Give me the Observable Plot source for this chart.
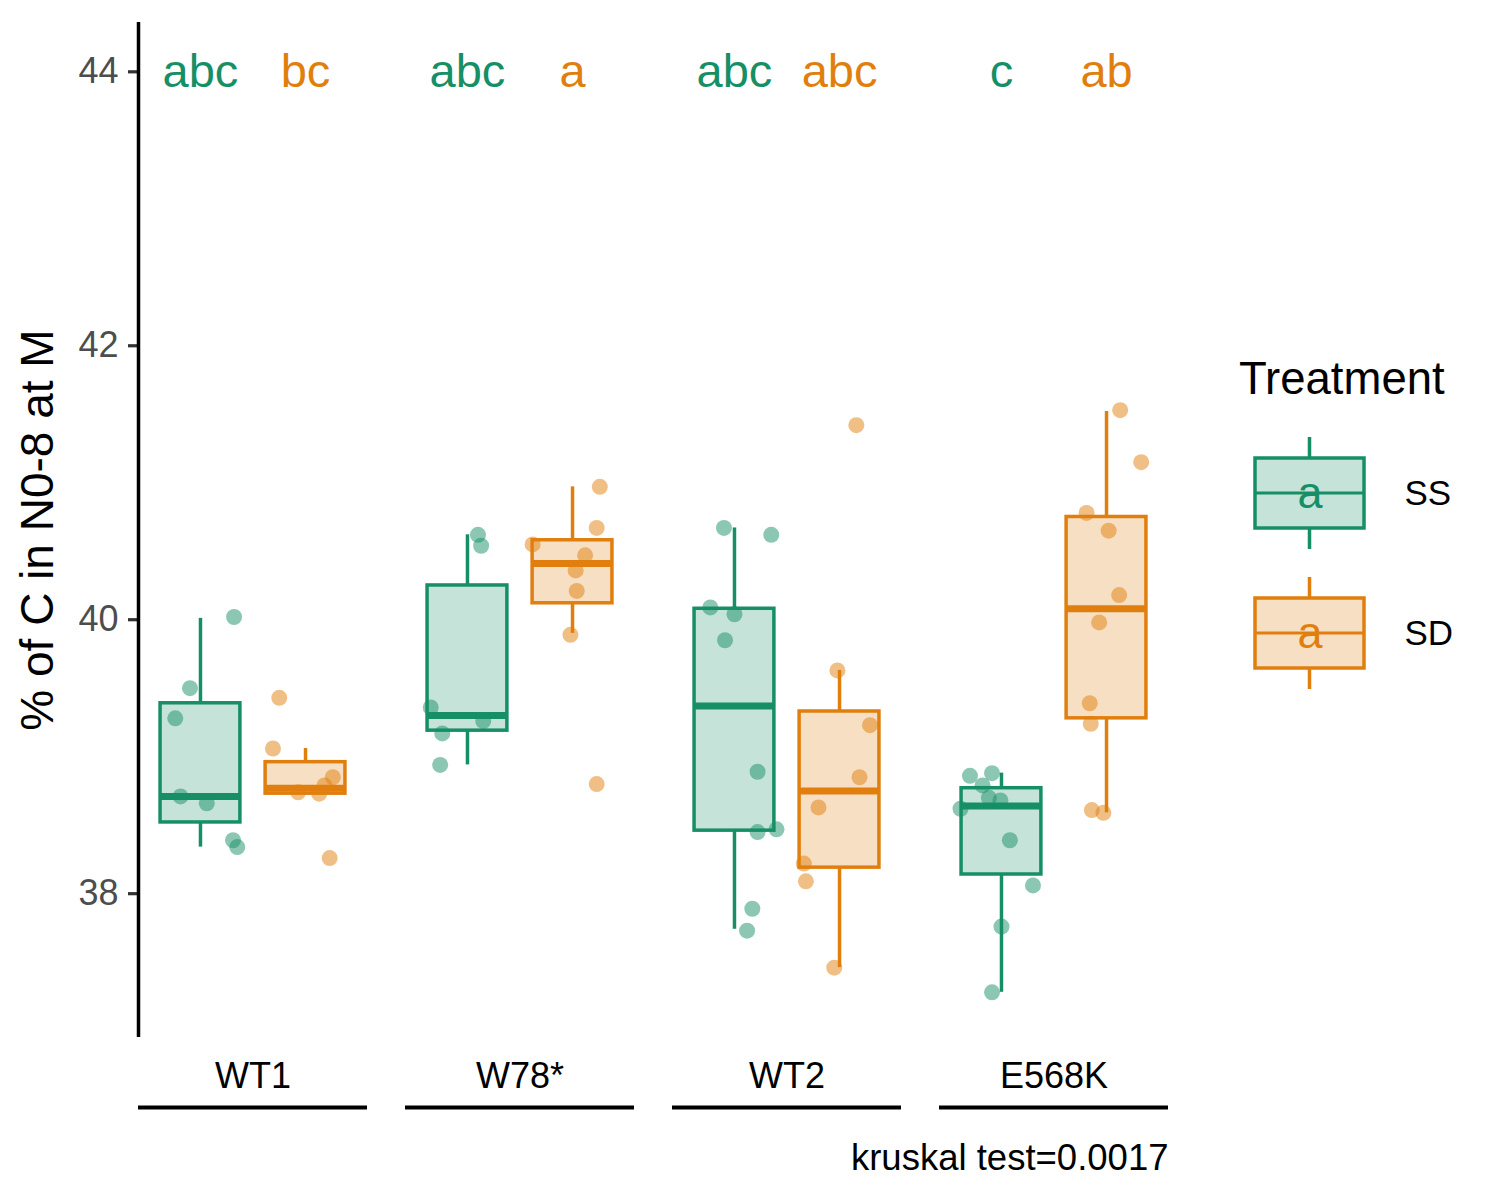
<!DOCTYPE html>
<html>
<head>
<meta charset="utf-8">
<script src="https://cdn.jsdelivr.net/npm/d3@7"></script>
<script src="https://cdn.jsdelivr.net/npm/@observablehq/plot@0.6"></script>
<style>
  body { margin: 0; background: #fff; font-family: "Liberation Sans", Arial, sans-serif; }
  #wrap { position: relative; width: 1500px; height: 1200px; }
  #main { position: absolute; left: 0; top: 0; }
  #legendTitle { position: absolute; left: 1239px; top: 356px; font-size: 45.5px; line-height: 1; color: #000; }
  #legend { position: absolute; left: 1230px; top: 420px; }
</style>
</head>
<body>
<div id="wrap">
  <div id="main"></div>
  <div id="legendTitle">Treatment</div>
  <div id="legend"></div>
</div>
<script>
// ---------- data ----------
const groups = ["WT1", "W78*", "WT2", "E568K"];
const treatments = ["SS", "SD"];
const colors = ["#178F66", "#E17F0E"];
const yTicks = [38, 40, 42, 44];
const yDomain = [36.95, 44.36];
const yLabel = "% of C in N0-8 at M";
const caption = "kruskal test=0.0017";

// significance letters (per group: SS, SD)
const lettersSS = ["abc", "abc", "abc", "c"];
const lettersSD = ["bc", "a", "abc", "ab"];
const letterY = 44;

// box statistics, order: WT1, W78*, WT2, E568K
const ssLow    = [38.34, 38.94, 37.74, 37.28];
const ssQ1     = [38.52, 39.19, 38.46, 38.14];
const ssMedian = [38.71, 39.30, 39.37, 38.64];
const ssQ3     = [39.39, 40.25, 40.08, 38.77];
const ssHigh   = [40.01, 40.62, 40.67, 38.88];

const sdLow    = [38.73, 39.90, 37.46, 38.59];
const sdQ1     = [38.73, 40.12, 38.19, 39.28];
const sdMedian = [38.77, 40.41, 38.75, 40.08];
const sdQ3     = [38.96, 40.58, 39.33, 40.75];
const sdHigh   = [39.06, 40.97, 39.63, 41.52];

const wt1SS   = [40.02, 39.50, 39.28, 38.71, 38.66, 38.39, 38.34];
const wt1SSj  = [0.32, -0.10, -0.24, -0.19, 0.06, 0.31, 0.35];
const wt1SD   = [39.43, 39.06, 38.85, 38.79, 38.74, 38.73, 38.26];
const wt1SDj  = [-0.25, -0.31, 0.26, 0.18, -0.07, 0.13, 0.23];
const w78SS   = [40.62, 40.54, 39.36, 39.26, 39.17, 38.94];
const w78SSj  = [0.10, 0.13, -0.35, 0.15, -0.24, -0.26];
const w78SD   = [40.97, 40.67, 40.55, 40.47, 40.36, 40.21, 39.89, 38.80];
const w78SDj  = [0.26, 0.23, -0.38, 0.12, 0.03, 0.04, -0.02, 0.23];
const wt2SS   = [40.67, 40.62, 40.09, 40.04, 39.85, 38.89, 38.45, 38.47, 37.89, 37.73];
const wt2SSj  = [-0.10, 0.35, -0.23, 0.00, -0.09, 0.22, 0.22, 0.40, 0.17, 0.12];
const wt2SD   = [41.42, 39.63, 39.23, 38.85, 38.63, 38.22, 38.09, 37.46];
const wt2SDj  = [0.16, -0.02, 0.29, 0.19, -0.20, -0.34, -0.32, -0.05];
const e568SS  = [38.86, 38.88, 38.79, 38.70, 38.68, 38.62, 38.39, 38.06, 37.76, 37.28];
const e568SSj = [-0.30, -0.09, -0.18, -0.12, -0.01, -0.39, 0.08, 0.30, 0.00, -0.09];
const e568SD  = [41.53, 41.15, 40.78, 40.65, 40.18, 39.98, 39.39, 39.24, 38.61, 38.59];
const e568SDj = [0.13, 0.33, -0.19, 0.02, 0.12, -0.07, -0.16, -0.15, -0.14, -0.03];

// ---------- tables built from the arrays ----------
const boxes = [];
groups.forEach((g, i) => {
  boxes.push({group: g, treatment: "SS", low: ssLow[i], q1: ssQ1[i], median: ssMedian[i], q3: ssQ3[i], high: ssHigh[i]});
  boxes.push({group: g, treatment: "SD", low: sdLow[i], q1: sdQ1[i], median: sdMedian[i], q3: sdQ3[i], high: sdHigh[i]});
});
const letters = [];
groups.forEach((g, i) => {
  letters.push({group: g, treatment: "SS", label: lettersSS[i], y: letterY});
  letters.push({group: g, treatment: "SD", label: lettersSD[i], y: letterY});
});
const cells = [
  ["WT1", "SS", wt1SS, wt1SSj], ["WT1", "SD", wt1SD, wt1SDj],
  ["W78*", "SS", w78SS, w78SSj], ["W78*", "SD", w78SD, w78SDj],
  ["WT2", "SS", wt2SS, wt2SSj], ["WT2", "SD", wt2SD, wt2SDj],
  ["E568K", "SS", e568SS, e568SSj], ["E568K", "SD", e568SD, e568SDj]
];
const points = cells.flatMap(([g, t, vals, jit]) => vals.map((v, k) => ({group: g, treatment: t, value: v, jitter: jit[k]})));

const pos = (t) => treatments.indexOf(t) + 1;
const half = 0.38;
const xDomain = [0.41, 2.59];
const font = "'Liberation Sans', Arial, sans-serif";

const chart = Plot.plot({
  width: 1200,
  height: 1200,
  marginTop: 22,
  marginBottom: 163,
  marginLeft: 138,
  marginRight: 31,
  style: {fontFamily: font, background: "white", color: "black"},
  fx: {domain: groups, paddingInner: 0.1423, paddingOuter: 0, axis: null, label: null},
  x: {type: "linear", domain: xDomain, axis: null},
  y: {domain: yDomain, axis: null},
  color: {domain: treatments, range: colors},
  marks: [
    // y axis
    Plot.axisY({ticks: yTicks, tickSize: 10, tickPadding: 10, fontSize: 36, fill: "#4d4d4d", stroke: "#333", strokeWidth: 3.2, label: null}),
    Plot.ruleX([groups[0]], {fx: (d) => d, x: xDomain[0], y1: yDomain[0], y2: yDomain[1], stroke: "black", strokeWidth: 3.5}),
    Plot.text([{g: groups[0], t: yLabel}], {fx: "g", text: "t", frameAnchor: "left", textAnchor: "middle", lineAnchor: "middle", rotate: -90, dx: -100, fontSize: 46, fill: "black"}),
    // group labels and underline
    Plot.axisFx({anchor: "bottom", tickSize: 0, tickPadding: 25, fontSize: 36, label: null, fill: "black"}),
    Plot.ruleY(groups, {fx: (d) => d, y: yDomain[0], dy: 70, stroke: "black", strokeWidth: 4}),
    // whiskers
    Plot.ruleX(boxes, {fx: "group", x: (d) => pos(d.treatment), y1: "q3", y2: "high", stroke: "treatment", strokeWidth: 3.5}),
    Plot.ruleX(boxes, {fx: "group", x: (d) => pos(d.treatment), y1: "low", y2: "q1", stroke: "treatment", strokeWidth: 3.5}),
    // boxes
    Plot.rect(boxes, {fx: "group", x1: (d) => pos(d.treatment) - half, x2: (d) => pos(d.treatment) + half, y1: "q1", y2: "q3",
      fill: "treatment", fillOpacity: 0.25, stroke: "treatment", strokeWidth: 3.5}),
    Plot.ruleY(boxes, {fx: "group", x1: (d) => pos(d.treatment) - half, x2: (d) => pos(d.treatment) + half, y: "median",
      stroke: "treatment", strokeWidth: 7}),
    // raw points
    Plot.dot(points, {fx: "group", x: (d) => pos(d.treatment) + d.jitter, y: "value", r: 8, fill: "treatment", fillOpacity: 0.5, stroke: null}),
    // letters
    Plot.text(letters, {fx: "group", x: (d) => pos(d.treatment), y: "y", text: "label", fill: "treatment", fontSize: 47}),
    // caption
    Plot.text([caption], {fx: () => groups[groups.length - 1], frameAnchor: "bottom-right", dy: 121, textAnchor: "end", lineAnchor: "middle", fontSize: 36.5, fill: "black"})
  ]
});
document.getElementById("main").appendChild(chart);

// ---------- legend ----------
const legend = Plot.plot({
  width: 260,
  height: 290,
  margin: 0,
  style: {fontFamily: font, background: "transparent", color: "black", overflow: "visible"},
  x: {domain: [0, 260], range: [0, 260], axis: null},
  y: {type: "band", domain: treatments, range: [37, 248], paddingInner: 0.5, paddingOuter: 0, axis: null},
  color: {domain: treatments, range: colors},
  marks: [
    Plot.barX(treatments, {x1: 77.75, x2: 81.25, y: (d) => d, insetTop: -21, insetBottom: 70, fill: (d) => d}),
    Plot.barX(treatments, {x1: 77.75, x2: 81.25, y: (d) => d, insetTop: 70, insetBottom: -21, fill: (d) => d}),
    Plot.barX(treatments, {x1: 25, x2: 134, y: (d) => d, fill: (d) => d, fillOpacity: 0.25, stroke: (d) => d, strokeWidth: 3.5}),
    Plot.barX(treatments, {x1: 25, x2: 134, y: (d) => d, insetTop: 33.5, insetBottom: 33.5, fill: (d) => d}),
    Plot.text(treatments, {x: 79.5, y: (d) => d, text: () => "a", fill: (d) => d, fontSize: 45}),
    Plot.text(treatments, {x: 174, y: (d) => d, text: (d) => d, textAnchor: "start", fontSize: 35, fill: "black"})
  ]
});
document.getElementById("legend").appendChild(legend);
</script>
</body>
</html>
